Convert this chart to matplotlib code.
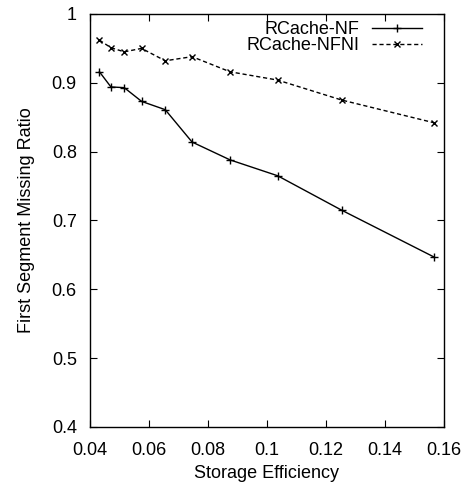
import matplotlib
matplotlib.use("Agg")
import matplotlib.pyplot as plt

plt.rcParams["font.family"] = ["Liberation Sans", "DejaVu Sans"]

storage_eff = [0.0432, 0.0471, 0.0516, 0.0575, 0.0655, 0.0746, 0.0875, 0.1036, 0.1253, 0.1566]
rcache_nf = [0.916, 0.894, 0.893, 0.873, 0.861, 0.814, 0.788, 0.765, 0.715, 0.647]
rcache_nfni = [0.962, 0.951, 0.945, 0.950, 0.932, 0.938, 0.916, 0.904, 0.875, 0.842]

xticks = [0.04, 0.06, 0.08, 0.1, 0.12, 0.14, 0.16]
xtick_labels = ["0.04", "0.06", "0.08", "0.1", "0.12", "0.14", "0.16"]
yticks = [0.4, 0.5, 0.6, 0.7, 0.8, 0.9, 1.0]
ytick_labels = ["0.4", "0.5", "0.6", "0.7", "0.8", "0.9", "1"]

fig = plt.figure(figsize=(4.67, 4.84), dpi=100)
ax = fig.add_axes([0.1927, 0.1178, 0.758, 0.8533])

ax.plot(storage_eff, rcache_nf, color="black", lw=1.0, marker="+", ms=6, mew=1.0,
        label="RCache-NF")
ax.plot(storage_eff, rcache_nfni, color="black", lw=1.0, ls=(0, (3, 2)), marker="x",
        ms=5, mew=1.0, label="RCache-NFNI")

ax.set_xlim(0.04, 0.16)
ax.set_ylim(0.4, 1.0)
ax.set_xticks(xticks)
ax.set_xticklabels(xtick_labels)
ax.set_yticks(yticks)
ax.set_yticklabels(ytick_labels)
ax.tick_params(direction="in", top=True, right=True, length=5, width=0.8,
               labelsize=13, colors="black")
ax.tick_params(axis="x", pad=10.5)
ax.tick_params(axis="y", pad=9.5)
for s in ax.spines.values():
    s.set_linewidth(1.0)

ax.set_xlabel("Storage Efficiency", fontsize=13, labelpad=4.5)
ax.set_ylabel("First Segment Missing Ratio", fontsize=13, labelpad=12)

ax.legend(loc="upper right", bbox_to_anchor=(0.938, 0.983), frameon=False,
          markerfirst=False, fontsize=13, handlelength=2.77, handletextpad=0.72,
          labelspacing=-0.06, borderaxespad=0.0, borderpad=0.0)

fig.savefig("out.png", dpi=100)
